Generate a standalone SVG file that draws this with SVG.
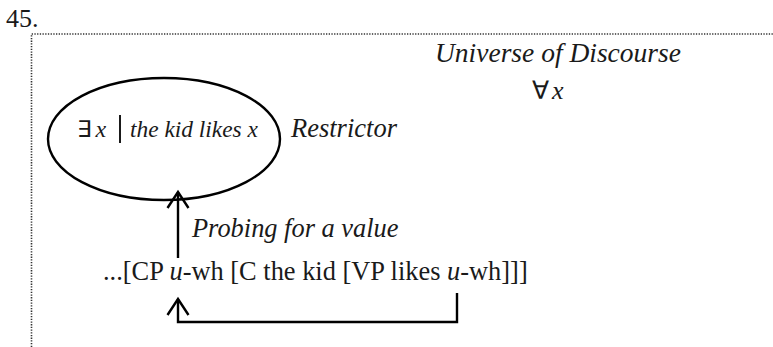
<svg xmlns="http://www.w3.org/2000/svg" width="773" height="347" viewBox="0 0 773 347">
<style>
.serif{font-family:"Liberation Serif","Times New Roman",serif;fill:#1a1a1a}
.it{font-style:italic}
.sans{font-family:"DejaVu Sans","Liberation Sans",sans-serif;fill:#1a1a1a}
.line{fill:none;stroke:#000;stroke-width:2.4}
.dot{fill:none;stroke:#333;stroke-width:1.6;stroke-dasharray:1.3 1.4}
</style>
<rect width="773" height="347" fill="#fff"/>
<text class="serif" x="6" y="27" font-size="26">45.</text>
<g id="frame">
<path class="dot" d="M31.5 347 V34 H773"/>
</g>
<g id="universe">
<text class="serif it" x="435" y="62" font-size="27.5">Universe of Discourse</text>
<text x="532" y="99"><tspan class="sans" font-size="25">∀</tspan><tspan class="serif it" font-size="26" dx="3">x</tspan></text>
</g>
<g id="restrictor">
<ellipse class="line" cx="164" cy="139" rx="116" ry="61" stroke-width="2"/>
<text x="77" y="137"><tspan class="sans" font-size="23">∃</tspan><tspan class="serif it" font-size="24" dx="4">x</tspan></text>
<line x1="120" y1="115" x2="120" y2="143" stroke="#1a1a1a" stroke-width="2"/>
<text class="serif it" x="130" y="137" font-size="23.4">the kid likes x</text>
<text class="serif it" x="291" y="137" font-size="26.5">Restrictor</text>
</g>
<g id="sentence">
<text class="serif" x="103" y="280" font-size="26.4">...[CP <tspan class="it">u</tspan>-wh [C the kid [VP likes <tspan class="it">u</tspan>-wh]]]</text>
</g>
<g id="connectors">
<path class="line" d="M178 192 V258"/>
<path class="line" d="M167.5 208 L178 192 L188.5 208"/>
<text class="serif it" x="192" y="237" font-size="26.4">Probing for a value</text>
<path class="line" d="M457 293 V322 H178 V299"/>
<path class="line" d="M167.5 315 L178 299 L188.5 315"/>
</g>
</svg>
